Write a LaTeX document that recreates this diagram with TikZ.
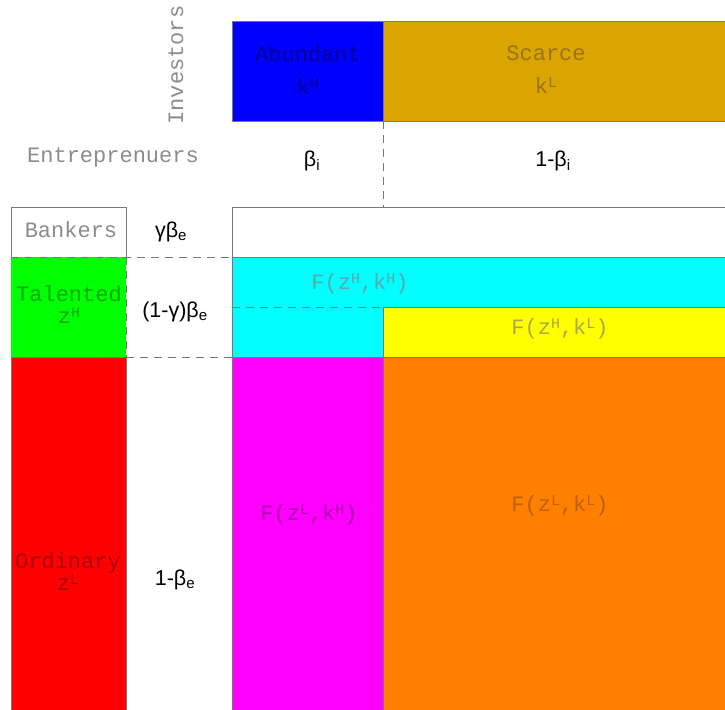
\documentclass[tikz,border=0pt]{standalone}
\usepackage{fontspec}
\setmainfont{Liberation Sans}
\newfontfamily\strokefont{Liberation Mono}
\newcommand{\upidx}[1]{\raisebox{0.55ex}{\fontsize{15}{15}\selectfont #1}}
\definecolor{edge}{RGB}{120,120,120}
\definecolor{bluebox}{RGB}{0,0,255}
\definecolor{goldbox}{RGB}{218,165,0}
\definecolor{greenbox}{RGB}{0,255,0}
\definecolor{redbox}{RGB}{255,0,0}
\definecolor{cyanbox}{RGB}{0,255,255}
\definecolor{yellowbox}{RGB}{255,255,0}
\definecolor{magbox}{RGB}{255,0,255}
\definecolor{orangebox}{RGB}{255,128,0}
\definecolor{txtgray}{RGB}{140,140,140}
\definecolor{txtblue}{RGB}{0,0,150}
\definecolor{txtgold}{RGB}{155,115,25}
\definecolor{txtgreen}{RGB}{0,170,0}
\definecolor{txtred}{RGB}{170,0,0}
\definecolor{txtcyan}{RGB}{85,170,170}
\definecolor{txtyellow}{RGB}{170,170,70}
\definecolor{txtmag}{RGB}{175,0,175}
\definecolor{txtorange}{RGB}{190,95,0}
\begin{document}
\begin{tikzpicture}[x=1pt,y=-1pt,
  box/.style={draw=edge, line width=0.8pt, inner sep=0pt, outer sep=0pt, anchor=north west},
  lbl/.style={font=\strokefont\fontsize{22}{24}\selectfont, align=center, inner sep=0pt},
  mth/.style={font=\fontsize{21.5}{24}\selectfont, text=black, inner sep=0pt},
  dsh/.style={draw=edge, line width=0.8pt, dash pattern=on 8pt off 6pt}]
\useasboundingbox (0,0) rectangle (725,709);
\clip (0,0) rectangle (725,709);
% investors
\node[box, fill=bluebox, minimum width=151pt, minimum height=100pt] (abund) at (232,21) {};
\node[box, fill=goldbox, minimum width=350pt, minimum height=100pt] (scarce) at (383,21) {};
% entrepreneurs
\node[box, fill=white, minimum width=115pt, minimum height=50pt] (bank) at (11,207) {};
\node[box, draw=none, fill=greenbox, minimum width=115pt, minimum height=100pt] (talent) at (11,257) {};
\node[box, fill=redbox, minimum width=115pt, minimum height=360pt] (ordin) at (11,357) {};
% outcome grid
\node[box, fill=white, minimum width=500pt, minimum height=60pt] (topreg) at (232,207) {};
\node[box, fill=cyanbox, minimum width=500pt, minimum height=100pt] (hh) at (232,257) {};
\node[box, fill=yellowbox, minimum width=350pt, minimum height=50pt] (hl) at (383,307) {};
\node[box, fill=magbox, minimum width=151pt, minimum height=360pt] (lh) at (232,357) {};
\node[box, fill=orangebox, minimum width=350pt, minimum height=360pt] (ll) at (383,357) {};
% dashed separators
\coordinate (split) at (topreg.north west -| abund.south east);
\draw[dsh] (abund.south east) -- (split);
\draw[dsh] (bank.south west) -- (hh.north west);
\draw[dsh] (talent.north east) -- (talent.south east);
\draw[dsh] (ordin.north east) -- (lh.north west);
\draw[dsh] (hh.west |- hl.north) -- (hl.north west);
% labels
\node[lbl, text=txtgray, rotate=90] (invlbl) at (176,65) {Investors};
\node[lbl, text=txtblue] (abundlbl) at (308,70) {Abundant\\[9pt]k\upidx{H}};
\node[lbl, text=txtgold] (scarcelbl) at (546,70) {Scarce\\[9pt]k\upidx{L}};
\node[lbl, text=txtgray] (entlbl) at (113,157) {Entreprenuers};
\node[lbl, text=txtgray] (banklbl) at (71,230) {Bankers};
\node[lbl, text=txtgreen] (talentlbl) at (69,305) {Talented\\[-2pt]z\upidx{H}};
\node[lbl, text=txtred] (ordinlbl) at (68,572) {Ordinary\\[-2pt]z\upidx{L}};
\node[lbl, text=txtcyan] (hhlbl) at (360,284) {F(z\upidx{H},k\upidx{H})};
\node[lbl, text=txtyellow] (hllbl) at (560,329) {F(z\upidx{H},k\upidx{L})};
\node[lbl, text=txtmag] (lhlbl) at (309,515) {F(z\upidx{L},k\upidx{H})};
\node[lbl, text=txtorange] (lllbl) at (560,506) {F(z\upidx{L},k\upidx{L})};
% shares
\node[mth] (bi) at (312,161) {β\textsubscript{i}};
\node[mth] (onebi) at (553,161) {1-β\textsubscript{i}};
\node[mth] (gbe) at (171,232) {γβ\textsubscript{e}};
\node[mth] (ogbe) at (175,312) {(1-γ)β\textsubscript{e}};
\node[mth] (obe) at (175,580) {1-β\textsubscript{e}};
\end{tikzpicture}
\end{document}
